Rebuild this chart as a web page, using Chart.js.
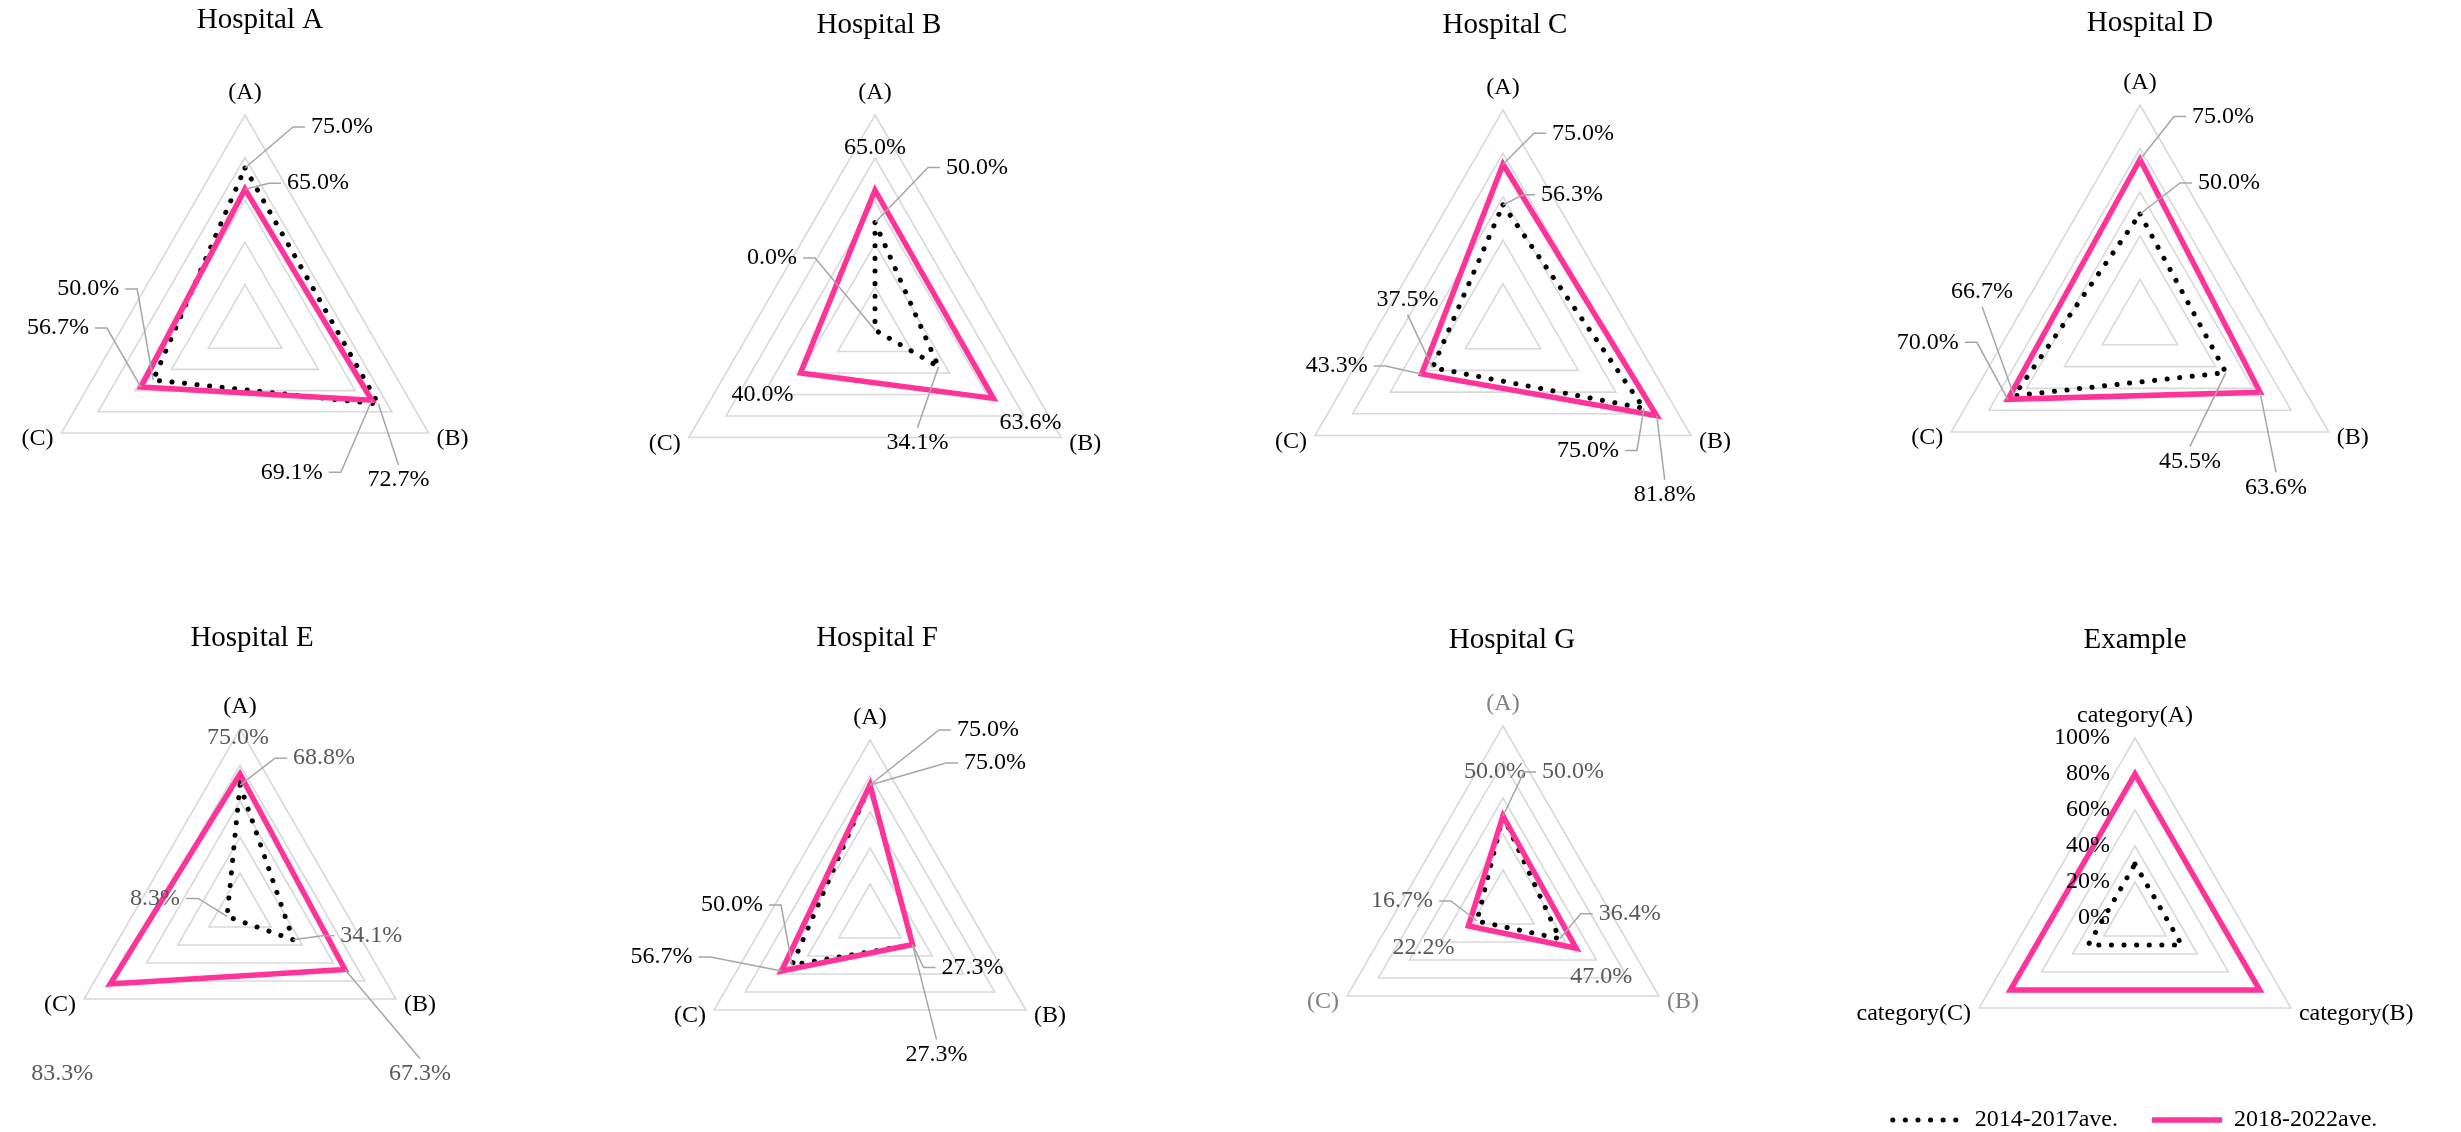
<!DOCTYPE html>
<html>
<head>
<meta charset="utf-8">
<title>Hospital radar charts</title>
<script src="https://cdn.jsdelivr.net/npm/chart.js@4.4.1/dist/chart.umd.min.js"></script>
<style>
  html, body { margin: 0; padding: 0; background: #fff; overflow: hidden; }
  #page { position: relative; width: 2461px; height: 1132px; }
  #page canvas { position: absolute; }
</style>
</head>
<body>
<div id="page"></div>
<script>
var categories = ['(A)', '(B)', '(C)'];
var exampleCategories = ['category(A)', 'category(B)', 'category(C)'];
var seriesNames = ['2014-2017ave.', '2018-2022ave.'];
var tickValues = [0, 20, 40, 60, 80, 100];
var titles = ['Hospital A', 'Hospital B', 'Hospital C', 'Hospital D',
              'Hospital E', 'Hospital F', 'Hospital G', 'Example'];

// values in %, order (A), (B), (C)
var hospA2014 = [75.0, 72.7, 50.0];
var hospA2018 = [65.0, 69.1, 56.7];
var hospB2014 = [50.0, 34.1, 0.0];
var hospB2018 = [65.0, 63.6, 40.0];
var hospC2014 = [56.3, 75.0, 37.5];
var hospC2018 = [75.0, 81.8, 43.3];
var hospD2014 = [50.0, 45.5, 66.7];
var hospD2018 = [75.0, 63.6, 70.0];
var hospE2014 = [68.8, 34.1, 8.3];
var hospE2018 = [75.0, 67.3, 83.3];
var hospF2014 = [75.0, 27.3, 50.0];
var hospF2018 = [75.0, 27.3, 56.7];
var hospG2014 = [50.0, 36.4, 16.7];
var hospG2018 = [50.0, 47.0, 22.2];
var example2014 = [30, 30, 30];
var example2018 = [80, 80, 80];

var before = [hospA2014, hospB2014, hospC2014, hospD2014, hospE2014, hospF2014, hospG2014, example2014];
var after = [hospA2018, hospB2018, hospC2018, hospD2018, hospE2018, hospF2018, hospG2018, example2018];

// page placement: centre x, centre y, radius, title x, title y
var frames = [
  [245, 327, 212, 260, 20],
  [875, 330, 215, 879, 25],
  [1503, 327, 217, 1505, 25],
  [2140, 323, 218, 2150, 23],
  [240, 909, 180, 252, 638],
  [870, 920, 180, 877, 638],
  [1503, 906, 180, 1512, 640],
  [2135, 918, 180, 2135, 640]
];

// data label placement: series (0 old,1 new), category, dx, dy from the point, leader
var spots = [
  [[0,0,97,-41,'h'], [1,0,73,-6,'h'], [0,2,-65,-91,'h'], [1,2,-83,-59,'h'], [1,1,-80,72,'h'], [0,1,20,76,'v']],
  [[1,0,0,-43,''], [0,0,102,-55,'h'], [0,2,-103,-72,'h'], [1,2,-38,22,''], [0,1,-21,76,'v'], [1,1,37,24,'']],
  [[1,0,80,-31,'h'], [0,0,69,-10,'h'], [0,2,-25,-68,'v'], [1,2,-85,-8,'h'], [0,1,-56,42,'h'], [1,1,8,79,'v']],
  [[1,0,83,-43,'h'], [0,0,89,-31,'h'], [0,2,-32,-104,'v'], [1,2,-80,-57,'h'], [0,1,-36,89,'v'], [1,1,16,95,'v']],
  [[1,0,-2,-36,''], [0,0,84,-27,'h'], [0,2,-72,-18,'h'], [1,2,-48,90,''], [0,1,78,-4,'h'], [1,1,75,104,'v']],
  [[0,0,118,-55,'h'], [1,0,125,-22,'h'], [0,2,-60,-60,'h'], [1,2,-120,-14,'h'], [0,1,60,23,'h'], [1,1,24,110,'v']],
  [[1,0,-8,-44,''], [0,0,70,-44,'h'], [0,2,-75,-20,'h'], [1,2,-45,22,''], [0,1,70,-25,'h'], [1,1,25,28,'']],
  []
];

var valueColors = ['#000', '#000', '#000', '#000', '#595959', '#000', '#595959', '#000'];
var axisColors = ['#000', '#000', '#000', '#000', '#000', '#000', '#7f7f7f', '#000'];

var FONT = '"Liberation Serif", "Times New Roman", serif';
Chart.defaults.font.family = FONT;
Chart.defaults.color = '#000';

var labelPlugin = {
  id: 'radarText',
  afterDatasetsDraw: function(chart) {
    var o = chart.options.plugins.radarText;
    var ctx = chart.ctx;
    var scale = chart.scales.r;
    ctx.save();
    ctx.font = '24px ' + FONT;
    ctx.textBaseline = 'middle';

    // axis names
    ctx.fillStyle = o.axisColor;
    o.axisNames.forEach(function(t, i) {
      var p = scale.getPointPosition(i, scale.drawingArea);
      if (i === 0) {
        ctx.textAlign = 'center';
        ctx.fillText(t, p.x, p.y - 22);
      } else if (i === 1) {
        ctx.textAlign = 'left';
        ctx.fillText(t, p.x + 8, p.y + 6);
      } else {
        ctx.textAlign = 'right';
        ctx.fillText(t, p.x - 8, p.y + 6);
      }
    });

    // tick labels (example only), left of the (A) axis
    if (o.ticks) {
      ctx.textAlign = 'right';
      scale.ticks.forEach(function(tk) {
        var p = scale.getPointPosition(0, scale.getDistanceFromCenterForValue(tk.value));
        ctx.fillText(tk.value + '%', p.x - 25, p.y);
      });
    }

    // value labels with leader lines
    ctx.textAlign = 'center';
    o.spots.forEach(function(s) {
      var el = chart.getDatasetMeta(s[0]).data[s[1]];
      var val = chart.data.datasets[s[0]].data[s[1]];
      var text = val.toFixed(1) + '%';
      var lx = el.x + s[2], ly = el.y + s[3];
      var hw = ctx.measureText(text).width / 2;
      ctx.strokeStyle = '#a6a6a6';
      ctx.lineWidth = 1.5;
      if (s[4] === 'h') {
        var side = lx > el.x ? -1 : 1;
        var x0 = lx + side * (hw + 6);
        var x1 = x0 + side * 12;
        ctx.beginPath();
        ctx.moveTo(x0, ly);
        ctx.lineTo(x1, ly);
        ctx.lineTo(el.x, el.y);
        ctx.stroke();
      } else if (s[4] === 'v') {
        var y0 = ly > el.y ? ly - 15 : ly + 15;
        ctx.beginPath();
        ctx.moveTo(lx, y0);
        ctx.lineTo(el.x, el.y);
        ctx.stroke();
      }
      ctx.fillStyle = o.valueColor;
      ctx.fillText(text, lx, ly);
    });
    ctx.restore();
  }
};

function makeLegendLabels(chart) {
  var items = Chart.defaults.plugins.legend.labels.generateLabels(chart);
  items.forEach(function(item) {
    var ds = chart.data.datasets[item.datasetIndex];
    item.pointStyle = 'line';
    item.lineWidth = ds.borderWidth;
    item.lineDash = ds.borderDash || [];
    item.lineCap = ds.borderCapStyle;
    item.strokeStyle = ds.borderColor;
  });
  return items;
}

function buildChart(i) {
  var f = frames[i];
  var row = i < 4 ? 0 : 1;
  var col = i % 4;
  var left = col * 615;
  var top = row * 616;
  var W = col === 3 ? 2461 - left : 615;
  var H = row === 0 ? 616 : (i === 7 ? 530 : 516);
  var cx = f[0] - left, cy = f[1] - top, r = f[2];
  var tx = f[3] - left, ty = f[4] - top;
  var pl = 0, pr = 0;
  if (2 * tx < W) { pr = W - 2 * tx; } else { pl = 2 * tx - W; }
  var isExample = i === 7;

  var canvas = document.createElement('canvas');
  canvas.width = W;
  canvas.height = H;
  canvas.style.left = left + 'px';
  canvas.style.top = top + 'px';
  canvas.style.width = W + 'px';
  canvas.style.height = H + 'px';
  document.getElementById('page').appendChild(canvas);

  new Chart(canvas.getContext('2d'), {
    type: 'radar',
    data: {
      labels: isExample ? exampleCategories : categories,
      datasets: [{
        label: seriesNames[0],
        data: before[i],
        borderColor: '#000',
        borderWidth: 5,
        borderDash: [0.1, 12.5],
        borderCapStyle: 'round',
        fill: false,
        pointRadius: 0,
        pointHitRadius: 0,
        clip: false,
        order: 1
      }, {
        label: seriesNames[1],
        data: after[i],
        borderColor: '#ff3399',
        borderWidth: 5.5,
        borderJoinStyle: 'miter',
        fill: false,
        pointRadius: 0,
        pointHitRadius: 0,
        clip: false,
        order: 0
      }]
    },
    options: {
      responsive: false,
      animation: false,
      events: [],
      layout: { padding: { left: pl, right: pr, top: 0, bottom: isExample ? 4 : 0 } },
      scales: {
        r: {
          min: 0,
          max: 100,
          ticks: { display: false, stepSize: 20 },
          grid: { color: '#d9d9d9', lineWidth: 1.6 },
          angleLines: { display: false },
          pointLabels: { display: false },
          afterFit: function(scale) {
            scale.xCenter = cx;
            scale.yCenter = cy;
            scale.drawingArea = r;
          }
        }
      },
      plugins: {
        title: {
          display: true,
          text: titles[i],
          color: '#000',
          font: { family: FONT, size: 29, weight: 'normal' },
          padding: { top: ty - 17.4, bottom: 4 }
        },
        legend: {
          display: isExample,
          position: 'bottom',
          reverse: true,
          labels: {
            usePointStyle: true,
            pointStyleWidth: 70,
            padding: 34,
            color: '#000',
            font: { family: FONT, size: 24 },
            generateLabels: makeLegendLabels
          }
        },
        tooltip: { enabled: false },
        radarText: {
          axisNames: isExample ? exampleCategories : categories,
          axisColor: axisColors[i],
          valueColor: valueColors[i],
          spots: spots[i],
          ticks: isExample
        }
      }
    },
    plugins: [labelPlugin]
  });
}

for (var k = 0; k < 8; k++) {
  buildChart(k);
}
</script>
</body>
</html>
